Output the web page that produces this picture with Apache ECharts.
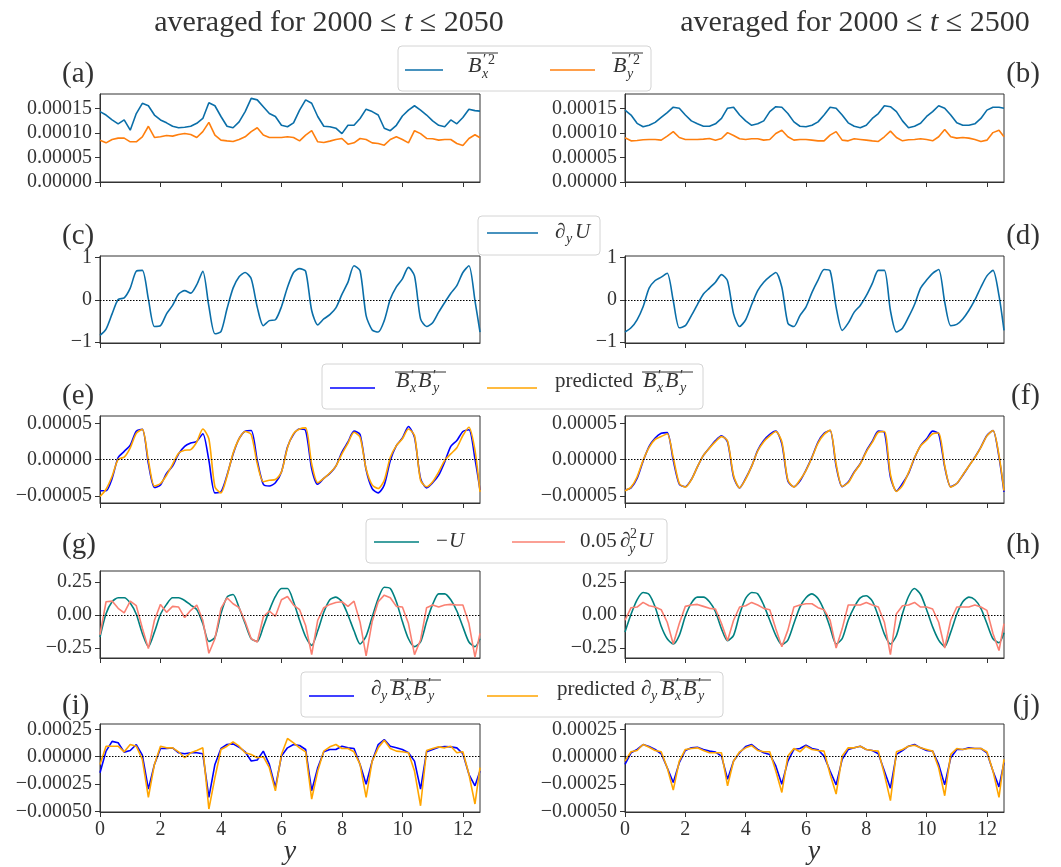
<!DOCTYPE html>
<html><head><meta charset="utf-8">
<script src="https://cdn.jsdelivr.net/npm/echarts@6/dist/echarts.min.js"></script>
<style>html,body{margin:0;padding:0;background:#fff}#c{width:1061px;height:867px}</style>
</head><body><div id="c"></div>
<script>
// ---------- data ----------
const Y_GRID = [0,0.2,0.4,0.6,0.8,1,1.2,1.4,1.6,1.8,2,2.2,2.4,2.6,2.8,3,3.2,3.4,3.6,3.8,4,4.2,4.4,4.6,4.8,5,5.2,5.4,5.6,5.8,6,6.2,6.4,6.6,6.8,7,7.2,7.4,7.6,7.8,8,8.2,8.4,8.6,8.8,9,9.2,9.4,9.6,9.8,10,10.2,10.4,10.6,10.8,11,11.2,11.4,11.6,11.8,12,12.2,12.4,12.566];
const X_MAX = 12.566;
const X_TICKS = [0,2,4,6,8,10,12];
const TICKS_A = [0,0.00005,0.0001,0.00015];
const TICKS_C = [-1,0,1];
const TICKS_E = [-0.00005,0,0.00005];
const TICKS_G = [-0.25,0,0.25];
const TICKS_I = [-0.0005,-0.00025,0,0.00025];
const E5 = 1e-5; // arrays marked _E5 are in units of 1e-5

// (a) 2000<=t<=2050
const BX2_L_E5 = [14.4,13.7,12.7,11.9,12.7,10.6,14.0,16.1,15.6,13.7,12.7,12.1,11.4,11.1,11.2,11.4,12.0,13.0,16.2,15.6,13.4,11.4,11.1,12.3,14.4,17.1,16.8,15.4,14.0,13.4,11.6,11.3,12.1,14.7,16.8,16.1,13.4,11.4,11.3,11.0,9.9,11.6,11.6,13.0,14.9,14.4,13.7,11.0,10.5,11.6,13.5,14.7,15.6,14.7,13.7,12.5,11.6,11.3,12.7,11.9,13.2,14.9,14.6,14.5];
const BY2_L_E5 = [8.56,8.01,8.70,8.97,8.97,8.22,8.22,9.25,11.4,9.11,9.25,9.52,9.38,9.73,9.93,9.73,9.11,10.3,12.2,9.59,8.56,8.42,8.29,8.70,9.25,10.3,11.1,9.59,9.11,9.11,9.11,9.25,9.11,8.42,9.59,10.5,8.22,8.08,8.36,8.70,8.90,7.74,8.01,8.90,8.70,8.01,7.88,7.53,8.70,9.25,8.70,8.01,10.5,9.9,8.90,8.84,8.56,8.70,8.70,7.88,7.47,8.90,9.66,9.04];
// (b) 2000<=t<=2500
const BX2_R_E5 = [14.7,13.7,12.0,11.3,11.6,12.2,13.2,14.2,15.3,15.1,13.7,12.5,11.9,11.4,11.4,11.9,13.0,15.1,15.3,13.7,12.5,11.6,11.9,12.5,14.4,15.4,15.3,14.0,12.3,11.4,11.3,11.6,12.3,13.7,15.3,15.1,13.7,12.1,11.4,11.1,11.6,13.0,14.0,15.6,15.4,14.4,12.5,11.1,11.4,12.0,13.4,14.4,15.6,15.1,13.7,12.1,11.6,11.6,11.9,13.0,14.7,15.3,15.3,15.1];
const BY2_R_E5 = [9.04,8.42,8.49,8.63,8.70,8.70,8.56,9.38,10.3,9.11,8.70,8.70,8.70,8.77,8.90,8.56,8.90,10.1,9.5,8.84,8.70,8.84,8.84,8.56,8.70,9.93,10.6,9.25,8.56,8.70,8.70,8.56,8.42,8.42,9.59,10.3,8.56,8.42,8.84,8.70,8.56,8.42,8.29,9.25,10.4,9.11,8.42,8.63,8.70,8.84,8.70,8.42,9.25,10.75,9.25,8.97,9.11,8.97,8.70,8.29,8.56,10.1,10.6,9.25];
// (c),(d) d_y U
const DYU_L = [-0.84,-0.69,-0.33,0.01,0.05,0.28,0.68,0.70,0.02,-0.63,-0.61,-0.33,-0.13,0.14,0.22,0.16,0.36,0.68,-0.15,-0.80,-0.75,-0.21,0.28,0.55,0.65,0.50,-0.17,-0.61,-0.49,-0.47,-0.16,0.30,0.65,0.74,0.68,-0.25,-0.59,-0.45,-0.35,-0.19,0.13,0.42,0.81,0.69,-0.37,-0.71,-0.76,-0.49,0.02,0.31,0.50,0.77,0.57,-0.45,-0.63,-0.54,-0.29,-0.06,0.16,0.34,0.65,0.81,-0.02,-0.76];
const DYU_R = [-0.76,-0.66,-0.47,-0.16,0.28,0.46,0.54,0.63,-0.02,-0.66,-0.61,-0.37,-0.11,0.14,0.28,0.42,0.60,0.45,-0.33,-0.63,-0.47,-0.11,0.22,0.42,0.55,0.65,0.30,-0.55,-0.63,-0.37,-0.17,0.18,0.47,0.72,0.69,-0.17,-0.72,-0.55,-0.29,-0.13,0.10,0.39,0.70,0.70,-0.25,-0.76,-0.67,-0.41,-0.11,0.28,0.47,0.63,0.72,-0.05,-0.61,-0.58,-0.45,-0.25,0.0,0.30,0.57,0.70,0.10,-0.72];
// (e),(f) BxBy and predicted
const BXBY_L_E5 = [-4.3,-4.3,-2.6,0.3,1.15,2.0,3.95,4.2,-0.55,-3.85,-3.5,-1.9,-0.9,0.8,1.85,2.3,2.55,3.6,-0.1,-4.6,-4.45,-2.15,0.75,2.9,3.95,4.05,-0.1,-3.4,-3.65,-3.2,-1.7,1.75,3.5,4.25,4.05,-1.25,-3.4,-2.6,-1.9,-0.9,1.05,2.45,3.95,3.5,-1.4,-4.0,-4.6,-3.5,-0.1,1.95,3.0,4.6,3.1,-2.6,-3.9,-3.2,-2.15,-0.3,1.85,2.65,3.9,4.15,0.1,-4.2];
const PBXBY_L_E5 = [-5.1,-4.1,-2.3,0.05,0.35,1.65,3.65,4.2,-0.1,-3.65,-3.3,-2.15,-0.65,0.9,1.3,1.4,2.45,4.25,2.9,-3.75,-4.6,-2.3,0.9,2.9,3.9,3.5,-0.55,-3.05,-2.85,-2.75,-1.7,1.65,3.6,4.25,4.4,-0.6,-3.2,-2.6,-1.85,-0.9,0.8,2.3,3.8,3.1,-1.25,-3.5,-4.0,-2.85,0.35,1.95,2.9,4.25,3.35,-2.85,-3.75,-3.05,-1.7,-0.1,0.8,1.65,3.35,4.5,1.3,-4.45];
const BXBY_R_E5 = [-4.2,-3.9,-2.6,-0.2,1.85,3.0,3.65,3.75,-0.1,-3.4,-3.75,-2.75,-1.0,0.6,1.65,2.65,3.3,2.45,-2.4,-3.9,-2.6,-0.9,1.3,2.65,3.5,3.95,2.2,-2.95,-3.75,-2.95,-1.45,0.35,2.45,3.65,4.05,-0.9,-3.75,-3.1,-1.7,-0.55,1.2,2.55,3.95,3.8,-2.4,-4.35,-3.3,-1.9,0.25,1.95,2.9,3.95,3.6,-1.0,-3.75,-3.3,-2.15,-0.9,0.35,1.75,3.35,4.05,0.35,-4.45];
const PBXBY_R_E5 = [-4.3,-3.8,-2.4,-0.1,1.7,2.8,3.2,3.6,0.3,-3.3,-3.8,-2.8,-1.0,0.6,1.6,2.5,3.2,2.6,-2.2,-3.9,-2.7,-0.9,1.2,2.5,3.3,3.9,2.5,-2.8,-3.8,-2.8,-1.5,0.3,2.3,3.5,4.1,-0.6,-3.7,-3.2,-1.8,-0.6,1.1,2.4,3.8,3.9,-2.0,-4.4,-3.6,-1.8,0.3,1.9,2.7,3.6,3.7,-0.8,-3.8,-3.3,-2.1,-0.9,0.3,1.7,3.3,4.05,0.6,-4.3];
// (g),(h) -U and 0.05 d_y^2 U
const NEGU_L = [-0.167,0.01,0.10,0.13,0.13,0.09,0.005,-0.14,-0.24,-0.13,0.005,0.08,0.13,0.13,0.11,0.075,0.04,-0.065,-0.20,-0.17,0.01,0.135,0.155,0.055,-0.065,-0.18,-0.20,-0.09,0.035,0.14,0.20,0.20,0.10,-0.04,-0.165,-0.23,-0.12,0.02,0.115,0.135,0.10,0.0,-0.12,-0.22,-0.16,-0.015,0.125,0.21,0.20,0.10,-0.05,-0.18,-0.24,-0.205,-0.05,0.08,0.16,0.16,0.115,0.03,-0.09,-0.205,-0.24,-0.18];
const D2U_L = [-0.15,0.10,0.105,0.05,0.015,0.105,0.07,-0.10,-0.255,-0.04,0.08,0.02,0.065,0.06,-0.02,0.035,0.075,-0.04,-0.29,-0.18,0.05,0.13,0.085,0.055,-0.05,-0.18,-0.205,-0.015,0.03,-0.01,0.115,0.14,0.075,0.04,-0.08,-0.30,-0.04,0.055,0.08,0.095,0.10,0.065,0.105,-0.055,-0.31,-0.05,0.10,0.15,0.13,0.065,0.06,-0.065,-0.30,-0.19,0.055,0.075,0.06,0.075,0.08,0.075,0.075,-0.065,-0.32,-0.14];
const NEGU_R = [-0.13,0.005,0.115,0.17,0.155,0.06,-0.085,-0.18,-0.22,-0.155,-0.01,0.09,0.135,0.135,0.10,0.025,-0.105,-0.195,-0.155,0.005,0.125,0.17,0.16,0.075,-0.04,-0.155,-0.225,-0.19,-0.065,0.06,0.13,0.16,0.125,0.035,-0.095,-0.22,-0.18,-0.04,0.06,0.13,0.145,0.105,-0.01,-0.145,-0.22,-0.155,0.01,0.14,0.20,0.155,0.04,-0.09,-0.19,-0.24,-0.13,0.005,0.10,0.135,0.115,0.05,-0.065,-0.18,-0.21,-0.135];
const D2U_R = [-0.04,0.055,0.06,0.095,0.07,0.06,0.04,-0.055,-0.22,-0.065,0.065,0.075,0.08,0.065,0.05,0.045,-0.065,-0.195,-0.04,0.06,0.07,0.095,0.075,0.05,0.04,-0.105,-0.24,-0.115,0.06,0.075,0.085,0.085,0.055,0.04,-0.04,-0.25,-0.105,0.075,0.075,0.075,0.095,0.075,0.06,-0.055,-0.30,0.01,0.07,0.075,0.095,0.06,0.06,0.045,-0.055,-0.25,-0.04,0.06,0.06,0.06,0.075,0.06,0.035,-0.14,-0.27,-0.065];
// (i),(j) d_y BxBy and predicted
const DBXBY_L_E5 = [-14.5,5.1,14,12.7,4.2,5.7,11.1,1.5,-29.5,-7,7.5,7.5,8.1,3.6,2.7,3.6,3.6,2.7,-37,-7,7.5,11.1,11.7,8.7,4.5,-3.9,-3.0,5.1,-7,-28,0.6,8.1,11.1,10.2,6.6,-31,-10,4.5,6.6,6.6,9.6,8.1,7.5,-7,-25,-4,11.1,15.7,9.6,8.1,6.6,3.6,-4,-29.5,4.5,6.6,8.7,9.3,9.0,8.1,2.7,-16,-26.5,-13];
const PDBXBY_L_E5 = [-7,9.6,9.6,9.6,4.5,11.1,9.6,-2.4,-37,-7,9.6,8.1,8.1,4.5,-0.9,3.6,5.7,8.1,-47.6,-19,6.6,9.6,13.5,9.6,3.6,2.1,-0.9,0,-10,-31,2.1,16.6,12.7,8.1,4.5,-38.5,-13,5.1,9.0,11.1,7.5,7.5,4.5,-7,-37,-4,8.1,15,7.5,5.1,4.5,3.6,-13,-44.6,5.7,7.5,9.0,8.1,9.6,3.6,4.5,-16,-43,-10];
const DBXBY_R_E5 = [-7,3.6,6.6,11.1,9.3,6.6,2.7,-10,-23.5,-5.4,5.7,8.1,8.7,6.6,5.1,4.2,0.6,-20.5,-3.9,3.6,9.3,11.1,6.6,3.6,2.1,-8.4,-25,-3.9,6.6,7.5,10.5,7.5,6.3,0.6,-13,-25.6,-2.4,6.6,8.1,9.6,6.6,5.7,2.7,-13,-28.6,2.1,5.7,9.6,11.1,8.1,5.7,5.1,-7,-25.6,-0.9,6.6,6.6,8.1,7.5,7.5,3.6,-13,-27.4,-5.4];
const PDBXBY_R_E5 = [-4,4.5,5.7,11.1,8.7,5.7,4.5,-10,-30.4,-3.9,6.6,7.5,8.1,5.7,3.6,3.6,3.6,-26.5,-3.9,4.5,8.1,10.2,5.7,4.5,4.5,-13,-32.5,0.6,7.5,4.5,9.6,6.6,5.7,5.1,-16,-34,0.6,8.1,8.1,9.6,6.6,5.7,5.1,-16,-40,4.5,6.6,9.6,10.5,8.1,6.6,5.1,-10,-35.5,2.1,7.5,6.6,7.5,7.5,7.5,4.5,-13,-37,-2.4];

// ---------- styling / layout ----------
const SERIF = '"Liberation Serif","DejaVu Serif",serif';
const TXT = '#333';
const C_BLUE = '#0a6ea8', C_ORANGE = '#ff7f0e', C_PURE = '#0000ff', C_GOLD = '#ffa500', C_TEAL = '#008080', C_SALMON = '#fa8072';
const COLS = [{left:100, width:380}, {left:625, width:379}];
const ROWS = [
  {top:94,  height:88, min:0,         max:0.00018,  ticks:TICKS_A, dec:5, zero:false},
  {top:256, height:87, min:-1.02,     max:1.04,     ticks:TICKS_C, dec:0, zero:true},
  {top:416, height:87, min:-0.00006,  max:0.0000605,ticks:TICKS_E, dec:5, zero:true},
  {top:571, height:87, min:-0.326,    max:0.333,    ticks:TICKS_G, dec:2, zero:true},
  {top:724, height:88, min:-0.000503, max:0.000298, ticks:TICKS_I, dec:5, zero:true}
];
const PANELS = [
  [[BX2_L_E5,E5,C_BLUE,false],[BY2_L_E5,E5,C_ORANGE,false]],
  [[BX2_R_E5,E5,C_BLUE,false],[BY2_R_E5,E5,C_ORANGE,false]],
  [[DYU_L,1,C_BLUE,true]],
  [[DYU_R,1,C_BLUE,true]],
  [[BXBY_L_E5,E5,C_PURE,true],[PBXBY_L_E5,E5,C_GOLD,true]],
  [[BXBY_R_E5,E5,C_PURE,true],[PBXBY_R_E5,E5,C_GOLD,true]],
  [[NEGU_L,1,C_TEAL,true],[D2U_L,1,C_SALMON,false]],
  [[NEGU_R,1,C_TEAL,true],[D2U_R,1,C_SALMON,false]],
  [[DBXBY_L_E5,E5,C_PURE,false],[PDBXBY_L_E5,E5,C_GOLD,false]],
  [[DBXBY_R_E5,E5,C_PURE,false],[PDBXBY_R_E5,E5,C_GOLD,false]]
];
const fmtNum = (v, d) => v.toFixed(d).replace('-', '\u2212');

const grids = [], xAxes = [], yAxes = [], series = [];
ROWS.forEach((r, ri) => {
  COLS.forEach((c, ci) => {
    const idx = ri * 2 + ci;
    grids.push({left:c.left, width:c.width, top:r.top, height:r.height, show:true, borderColor:'#333', borderWidth:1, containLabel:false, outerBoundsMode:'none'});
    const bottom = ri === ROWS.length - 1;
    xAxes.push({type:'value', gridIndex:idx, min:0, max:X_MAX,
      axisLine:{show:true, onZero:false, lineStyle:{color:'#333', width:1}},
      axisTick:{show:true, inside:false, length:5, customValues:X_TICKS, lineStyle:{color:'#333'}},
      axisLabel:{show:bottom, customValues:X_TICKS, margin:8, color:TXT, fontFamily:SERIF, fontSize:20, formatter:v=>fmtNum(v,0)},
      splitLine:{show:false}});
    yAxes.push({type:'value', gridIndex:idx, min:r.min, max:r.max,
      axisLine:{show:true, lineStyle:{color:'#333', width:1}},
      axisTick:{show:true, inside:false, length:5, customValues:r.ticks, lineStyle:{color:'#333'}},
      axisLabel:{show:true, customValues:r.ticks, margin:8, color:TXT, fontFamily:SERIF, fontSize:20, formatter:v=>fmtNum(v, r.dec)},
      splitLine:{show:false}});
    PANELS[idx].forEach(([vals, scale, color, smooth], si) => {
      const s = {type:'line', xAxisIndex:idx, yAxisIndex:idx, symbol:'none', showSymbol:false,
        smooth: smooth ? 0.25 : false, animation:false, silent:true, z:2+si,
        lineStyle:{color, width:1.6}, itemStyle:{color},
        data: Y_GRID.map((x, k) => [x, vals[k] * scale])};
      if (si === 0 && r.zero) {
        s.markLine = {silent:true, symbol:['none','none'], animation:false, label:{show:false},
          lineStyle:{type:[1.5,1.5], color:'#000', width:1}, emphasis:{disabled:true}, data:[{yAxis:0}]};
      }
      series.push(s);
    });
  });
});

// ---------- text / legend graphics ----------
function txt(x, base, text, size, italic, align) {
  return {type:'text', silent:true, z:20, style:{text, x, y: base - 0.34 * size, fill:TXT,
    fontSize:size, fontFamily:SERIF, fontStyle: italic ? 'italic' : 'normal', textAlign: align || 'left', textVerticalAlign:'middle'}};
}
function hl(x1, x2, y, color, w) {
  return {type:'line', silent:true, z:20, shape:{x1, y1:y, x2, y2:y}, style:{stroke:color, lineWidth:w}};
}
function box(x, y, w, h) {
  return {type:'rect', silent:true, z:15, shape:{x, y, width:w, height:h, r:4}, style:{fill:'rgba(255,255,255,0.85)', stroke:'#d4d4d4', lineWidth:1}};
}
function barSq(x0, base, sub) { // overline{B'^2_sub}
  return [txt(x0, base, 'B', 22, true), txt(x0 + 15, base - 9, '\u2032', 15), txt(x0 + 20, base - 9, '2', 14),
          txt(x0 + 14, base + 5, sub, 14, true), hl(x0 - 1, x0 + 30, base - 21, TXT, 1)];
}
function barBB(x0, base) { // overline{B'_x B'_y}
  return [txt(x0, base, 'B', 22, true), txt(x0 + 15, base - 8, '\u2032', 15), txt(x0 + 14, base + 4, 'x', 14, true),
          txt(x0 + 22, base, 'B', 22, true), txt(x0 + 37, base - 8, '\u2032', 15), txt(x0 + 37, base + 4, 'y', 14, true),
          hl(x0 - 1, x0 + 50, base - 17, TXT, 1)];
}
const G = [];
// row a legend
G.push(box(398, 46, 253, 45), hl(405, 443, 70, C_BLUE, 1.6), hl(550, 595, 70, C_ORANGE, 1.6));
G.push(...barSq(468, 74, 'x'), ...barSq(613, 74, 'y'));
// row c legend
G.push(box(478, 216, 122, 39), hl(487, 538, 233, C_BLUE, 1.6));
G.push(txt(555, 240, '\u2202', 21, true), txt(566, 244, 'y', 14, true), txt(575, 240, 'U', 21, true));
// row e legend
G.push(box(322, 364, 381, 45), hl(330, 375, 388, C_PURE, 1.6), hl(487, 537, 388, C_GOLD, 1.6));
G.push(...barBB(396, 389), txt(555, 389, 'predicted', 21), ...barBB(643, 389));
// row g legend
G.push(box(366, 519, 301, 44), hl(374, 419, 542, C_TEAL, 1.6), hl(512, 565, 542, C_SALMON, 1.6));
G.push(txt(436, 549, '\u2212', 21), txt(449, 549, 'U', 21, true));
G.push(txt(580, 549, '0.05', 21), txt(620, 549, '\u2202', 21, true), txt(630, 539, '2', 14), txt(629, 554, 'y', 14, true), txt(638, 549, 'U', 21, true));
// row i legend
G.push(box(301, 672, 422, 45), hl(309, 354, 696, C_PURE, 1.6), hl(487, 538, 696, C_GOLD, 1.6));
G.push(txt(371, 697, '\u2202', 21, true), txt(381, 701, 'y', 14, true), ...barBB(391, 697));
G.push(txt(557, 697, 'predicted', 21), txt(641, 697, '\u2202', 21, true), txt(651, 701, 'y', 14, true), ...barBB(661, 697));
// panel labels
const LBL_Y = [74, 236, 396, 545, 706];
['a','c','e','g','i'].forEach((l, i) => G.push({type:'text', silent:true, z:20, style:{text:'(' + l + ')', x:62, y:LBL_Y[i], fill:TXT, fontSize:29, fontFamily:SERIF, textAlign:'left', textVerticalAlign:'middle'}}));
['b','d','f','h','j'].forEach((l, i) => G.push({type:'text', silent:true, z:20, style:{text:'(' + l + ')', x:1040, y:LBL_Y[i], fill:TXT, fontSize:29, fontFamily:SERIF, textAlign:'right', textVerticalAlign:'middle'}}));
// x-axis names
G.push({type:'text', silent:true, z:20, style:{text:'y', x:290, y:852, fill:TXT, fontSize:28, fontFamily:SERIF, fontStyle:'italic', textAlign:'center', textVerticalAlign:'middle'}});
G.push({type:'text', silent:true, z:20, style:{text:'y', x:814, y:852, fill:TXT, fontSize:28, fontFamily:SERIF, fontStyle:'italic', textAlign:'center', textVerticalAlign:'middle'}});

const rich = {n:{fontFamily:SERIF, fontSize:30, fontWeight:'normal', color:TXT}, i:{fontFamily:SERIF, fontSize:30, fontWeight:'normal', color:TXT, fontStyle:'italic'}};
const option = {
  backgroundColor:'#fff', animation:false,
  title:[
    {text:'{n|averaged for 2000 \u2264 }{i|t}{n| \u2264 2050}', left:329, top:8, textAlign:'center', padding:0, textStyle:{fontWeight:'normal', rich}},
    {text:'{n|averaged for 2000 \u2264 }{i|t}{n| \u2264 2500}', left:855, top:8, textAlign:'center', padding:0, textStyle:{fontWeight:'normal', rich}}
  ],
  grid:grids, xAxis:xAxes, yAxis:yAxes, series, graphic:G
};
const chart = echarts.init(document.getElementById('c'), null, {width:1061, height:867});
chart.setOption(option);
</script></body></html>
